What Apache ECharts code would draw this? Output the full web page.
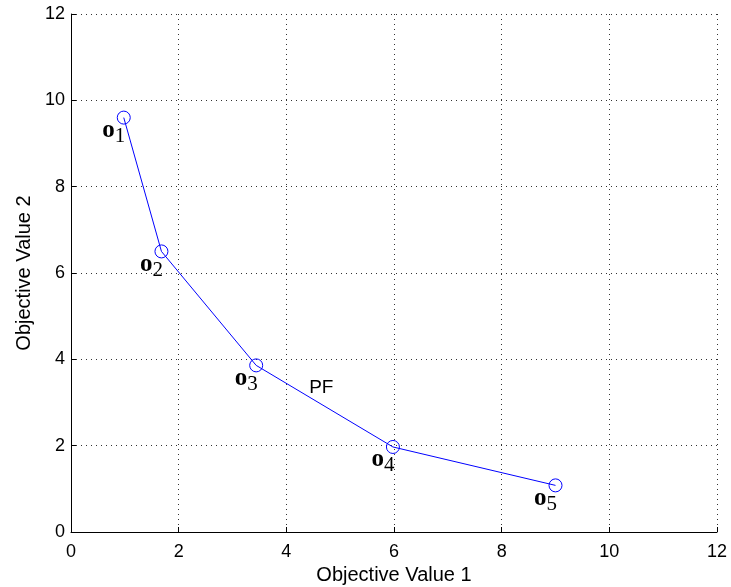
<!DOCTYPE html>
<html><head><meta charset="utf-8">
<script src="https://cdn.jsdelivr.net/npm/echarts@6/dist/echarts.min.js"></script>
<style>html,body{margin:0;padding:0;background:#fff}#c{width:731px;height:587px}</style>
</head><body><div id="c"></div>
<script>
var pointNames = ['1', '2', '3', '4', '5'];
var objective1 = [0.98, 1.68, 3.44, 5.98, 9.0];
var objective2 = [9.6, 6.5, 3.86, 1.97, 1.08];
var annotationText = ['PF'];
var annotationX = [4.65];
var annotationY = [3.33];
var xTicks = [0, 2, 4, 6, 8, 10, 12];
var yTicks = [0, 2, 4, 6, 8, 10, 12];

var chart = echarts.init(document.getElementById('c'), null, {renderer: 'canvas'});
var ptData = objective1.map(function (x, i) { return {value: [x, objective2[i]], name: pointNames[i]}; });
var annData = annotationX.map(function (x, i) { return {value: [x, annotationY[i]], name: annotationText[i]}; });
var gridLine = {show: true, lineStyle: {color: '#333', type: [1, 4], width: 1}};
chart.setOption({
  animation: false,
  grid: {left: 71, right: 14, top: 14, bottom: 55, containLabel: false, outerBoundsMode: 'none'},
  xAxis: {
    type: 'value', min: xTicks[0], max: xTicks[xTicks.length - 1], interval: 2,
    name: 'Objective Value 1', nameLocation: 'middle', nameGap: 24,
    nameTextStyle: {fontFamily: 'Liberation Sans', fontSize: 20, color: '#000'},
    axisLine: {onZero: false, lineStyle: {color: '#000', width: 1}},
    axisTick: {inside: true, length: 5, lineStyle: {color: '#000'}},
    axisLabel: {fontFamily: 'Liberation Sans', fontSize: 18, color: '#000', margin: 11},
    splitLine: gridLine
  },
  yAxis: {
    type: 'value', min: yTicks[0], max: yTicks[yTicks.length - 1], interval: 2,
    name: 'Objective Value 2', nameLocation: 'middle', nameGap: 37,
    nameTextStyle: {fontFamily: 'Liberation Sans', fontSize: 20, color: '#000'},
    axisLine: {show: true, onZero: false, lineStyle: {color: '#000', width: 1}},
    axisTick: {show: true, inside: true, length: 5, lineStyle: {color: '#000'}},
    axisLabel: {fontFamily: 'Liberation Sans', fontSize: 18, color: '#000', margin: 6},
    splitLine: gridLine
  },
  series: [
    {
      type: 'line', data: ptData,
      symbol: 'circle', symbolSize: 13, showAllSymbol: true,
      lineStyle: {color: '#0000ff', width: 1},
      itemStyle: {color: '#ffffff00', borderColor: '#0000ff', borderWidth: 1},
      label: {
        show: true, position: 'inside', offset: [-10, 15],
        formatter: function (p) { return '{o|o}{s|' + p.name + '}'; },
        rich: {
          o: {fontFamily: 'Liberation Serif', fontWeight: 'bold', fontSize: 25, color: '#000', lineHeight: 20, verticalAlign: 'top'},
          s: {fontFamily: 'Liberation Serif', fontSize: 21, color: '#000', lineHeight: 29, verticalAlign: 'bottom'}
        }
      },
      z: 3
    },
    {
      type: 'scatter', data: annData, symbolSize: 0, silent: true,
      label: {
        show: true, position: 'inside', formatter: function (p) { return p.name; },
        fontFamily: 'Liberation Sans', fontSize: 19, color: '#000', opacity: 1
      }
    }
  ]
});
</script></body></html>
